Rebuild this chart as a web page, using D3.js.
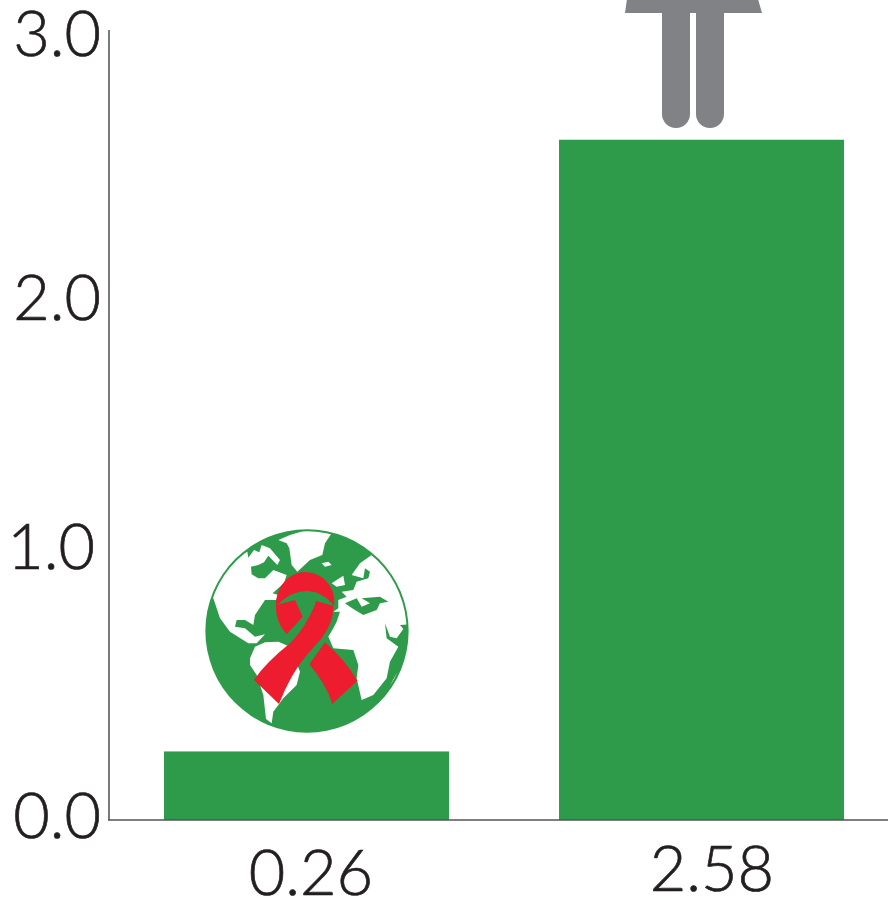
<!DOCTYPE html>
<html><head><meta charset="utf-8">
<script src="https://cdn.jsdelivr.net/npm/d3@7/dist/d3.min.js"></script>
<style>html,body{margin:0;padding:0;background:#fff;overflow:hidden}text{font-family:Lato,"Open Sans",sans-serif;font-weight:300;fill:#231f20;stroke:#231f20;stroke-width:0.7px}</style>
</head><body><svg id="c" width="888" height="899"></svg>
<script>
const categories = ["a", "b"];
const values = [0.26, 2.58];
const valueLabels = ["0.26", "2.58"];
const yTicks = [0, 1, 2, 3];

const GREEN = "#2e9b4a", RED = "#ed1c2e", GREY = "#808285", INK = "#231f20";
const svg = d3.select("#c");
const y = d3.scaleLinear().domain([0, 3]).range([820, 29]);
const x = d3.scaleBand().domain(categories).range([164, 844]).paddingInner(110 / 395);

// reference's hand-placed label nudges
const yTickNudge = { 0: [-8, 17], 1: [-14, 12], 2: [-8, 27], 3: [-8, 26] };
const xLabelPos = [[311, 895], [712, 891]];

// person's legs (cropped at the top of the frame)
const person = svg.append("g").attr("fill", GREY);
person.append("path").attr("d", "M627,-1L758,-1L762,13L625,13Z");
person.append("path").attr("d", "M662,12H690V114A14,14 0 0 1 662,114Z");
person.append("path").attr("d", "M696,12H724V114A14,14 0 0 1 696,114Z");

// bars
svg.selectAll("rect.bar").data(values).join("rect").attr("class", "bar")
  .attr("x", (d, i) => x(categories[i])).attr("width", x.bandwidth())
  .attr("y", d => y(d)).attr("height", d => y(0) - y(d)).attr("fill", GREEN);

// axes
const yAxis = d3.axisLeft(y).tickValues(yTicks).tickFormat(d3.format(".1f")).tickSize(0).tickPadding(0);
const gy = svg.append("g").attr("transform", "translate(109,0)").call(yAxis);
gy.select(".domain").attr("stroke", INK).attr("stroke-width", 1.2).attr("d", "M0,30V820");
gy.selectAll("text").attr("font-size", 63).attr("dy", 0).attr("text-anchor", "end")
  .attr("x", d => yTickNudge[d][0]).attr("y", d => yTickNudge[d][1]);
svg.append("line").attr("x1", 108).attr("x2", 888).attr("y1", 820).attr("y2", 820).attr("stroke", "#555").attr("stroke-width", 1.5);

svg.selectAll("text.val").data(valueLabels).join("text").attr("class", "val")
  .attr("text-anchor", "middle").attr("font-size", 63)
  .attr("x", (d, i) => xLabelPos[i][0]).attr("y", (d, i) => xLabelPos[i][1]).text(d => d);

// globe + ribbon icon, traced in its own 3x coordinates
const icon = svg.append("g").attr("transform", "translate(190,515) scale(0.3333)");
icon.append("clipPath").attr("id", "gl").append("circle").attr("cx", 351).attr("cy", 348).attr("r", 299);
icon.append("circle").attr("cx", 351).attr("cy", 348).attr("r", 305).attr("fill", GREEN);
const landG = icon.append("g").attr("clip-path", "url(#gl)");
const land = [
 "M265,75L300,60L350,45L425,55L405,85L397,120L360,135L322,170L305,150L298,100L290,85Z",
 "M150,120L172,110L175,128L192,105L208,112L215,90L240,100L270,135L262,150L235,122L222,142L205,150L183,155L185,178L205,190L225,190L250,165L290,180L282,205L262,222L248,235L265,240L258,255L225,255L195,300L190,330L165,315L140,315L135,335L165,340L195,365L225,358L200,385L175,385L120,350L90,310L70,250L50,260L60,150Z",
 "M180,430L195,395L225,382L265,380L300,395L330,470L320,510L280,550L250,590L245,625L228,612L220,540L200,480L180,450Z",
 "M545,120L640,180L670,327L630,330L640,342L620,370L600,365L585,325L590,370L625,395L600,440L590,490L550,540L515,555L500,490L505,450L490,405L430,400L415,365L430,340L440,320L450,290L430,290L445,280L445,255L470,245L455,230L490,225L500,200L535,190L540,170L525,160L520,190L485,180L510,145Z",
 "M600,512L622,472L612,495Z"
];
landG.selectAll("path.land").data(land).join("path").attr("class", "land").attr("d", d => d).attr("fill", "#fff");
const seas = [
 "M465,265L500,250L515,275L540,265L515,250L570,245L595,260L570,265L560,285L520,300L495,285L480,275Z",
];
icon.selectAll("path.sea").data(seas).join("path").attr("class", "sea").attr("d", d => d).attr("fill", GREEN);
const isles = ["M395,145L415,140L425,150L405,155Z", "M425,205L460,182L465,210L440,215Z"];
icon.selectAll("path.isle").data(isles).join("path").attr("class", "isle").attr("d", d => d).attr("fill", "#fff");
const ribbon = [
 "M258,270Q258,215 300,185Q350,155 400,190Q438,225 432,272Q395,228 350,228Q300,230 265,268L258,270Z",
 "M378,258L430,272Q432,320 395,370L350,420Q300,480 267,567L192,495Q225,445 300,385Q345,340 375,270Z",
 "M258,270L315,255L338,305L290,358Q255,320 258,270Z",
 "M405,382Q470,440 502,497L427,567Q410,510 358,448Z"
];
icon.selectAll("path.ribbon").data(ribbon).join("path").attr("class", "ribbon").attr("d", d => d).attr("fill", RED);
</script></body></html>
